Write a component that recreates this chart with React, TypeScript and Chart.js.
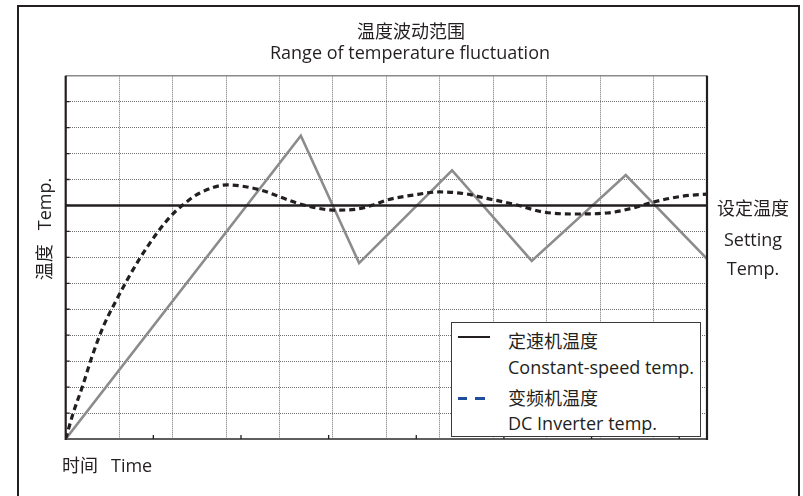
import React, { useEffect, useRef } from "react";
import { Chart, registerables } from "chart.js";

Chart.register(...registerables);

// ---- data ----
const timeMin = 0;
const timeMax = 12;
const tempMin = 0;
const tempMax = 14;
const settingTemp = 9;

// constant-speed unit (grey zigzag)
const constantTime = [0, 4.4, 5.49, 7.23, 8.72, 10.48, 12];
const constantTemp = [0, 11.69, 6.78, 10.35, 6.86, 10.17, 6.94];

// DC inverter unit (black dashed curve)
const inverterTime = [
  0, 0.14, 0.31, 0.49, 0.7, 0.92, 1.15, 1.39, 1.71, 1.95, 2.19, 2.51, 3.02, 3.64, 4.01, 4.33,
  4.7, 5.0, 5.45, 5.75, 6.01, 6.5, 7.0, 7.51, 7.75, 8.44, 8.93, 9.49, 10.13, 10.61, 10.99,
  11.55, 12,
];
const inverterTemp = [
  0, 1.0, 2.0, 3.16, 4.32, 5.24, 6.13, 6.97, 7.94, 8.55, 9.02, 9.48, 9.79, 9.6, 9.33, 9.09,
  8.9, 8.82, 8.86, 9.02, 9.21, 9.4, 9.52, 9.44, 9.33, 9.02, 8.75, 8.67, 8.71, 8.9, 9.13, 9.36,
  9.44,
];

// small tick marks along the time axis
const timeAxisMarks = [1.64, 3.28, 4.92, 6.56, 8.2, 9.84, 11.48];

// texts
const titleLines = ["温度波动范围", "Range of temperature fluctuation"];
const yTitle = ["温度", "Temp."];
const xTitle = ["时间", "Time"];
const settingLabel = ["设定温度", "Setting", "Temp."];
const legendItems = [
  { zh: "定速机温度", en: "Constant-speed temp." },
  { zh: "变频机温度", en: "DC Inverter temp." },
];

const INK = "#231f20";
const FONT = '"Open Sans", "Noto Sans CJK SC", sans-serif';

const framePlugin = {
  id: "frameLines",
  afterDatasetsDraw(chart: any) {
    const { ctx, chartArea, scales } = chart;
    const { left, right, top, bottom } = chartArea;
    ctx.save();
    // top border
    ctx.strokeStyle = "#8a8a8a";
    ctx.lineWidth = 1.5;
    ctx.beginPath();
    ctx.moveTo(left, top);
    ctx.lineTo(right, top);
    ctx.stroke();
    // bottom axis
    ctx.strokeStyle = "#5e5e5e";
    ctx.lineWidth = 2.2;
    ctx.beginPath();
    ctx.moveTo(left, bottom);
    ctx.lineTo(right, bottom);
    ctx.stroke();
    // left axis and right border
    ctx.strokeStyle = INK;
    ctx.lineWidth = 2.2;
    ctx.beginPath();
    ctx.moveTo(left, top);
    ctx.lineTo(left, bottom + 1);
    ctx.moveTo(right, top);
    ctx.lineTo(right, bottom + 1);
    ctx.stroke();
    // left axis tick marks
    ctx.lineWidth = 1.3;
    ctx.beginPath();
    for (let v = tempMin + 1; v < tempMax; v++) {
      const y = scales.y.getPixelForValue(v);
      ctx.moveTo(left, y);
      ctx.lineTo(left + 4, y);
    }
    // bottom axis marks
    for (const t of timeAxisMarks) {
      const x = scales.x.getPixelForValue(t);
      ctx.moveTo(x, bottom);
      ctx.lineTo(x, bottom - 4);
    }
    ctx.stroke();
    ctx.restore();
  },
};

export default function App() {
  const canvasRef = useRef<HTMLCanvasElement | null>(null);

  useEffect(() => {
    const canvas = canvasRef.current;
    if (!canvas) return;
    const chart = new Chart(canvas, {
      type: "line",
      data: {
        datasets: [
          {
            label: "变频机温度 DC Inverter temp.",
            data: inverterTime.map((x, i) => ({ x, y: inverterTemp[i] })),
            borderColor: INK,
            borderWidth: 3.2,
            borderDash: [6, 4],
            pointRadius: 0,
            cubicInterpolationMode: "monotone",
            fill: false,
            order: 1,
          },
          {
            label: "设定温度 Setting Temp.",
            data: [
              { x: timeMin, y: settingTemp },
              { x: timeMax, y: settingTemp },
            ],
            borderColor: INK,
            borderWidth: 2.4,
            pointRadius: 0,
            tension: 0,
            fill: false,
            order: 2,
          },
          {
            label: "定速机温度 Constant-speed temp.",
            data: constantTime.map((x, i) => ({ x, y: constantTemp[i] })),
            borderColor: "#8c8c8c",
            borderWidth: 2.6,
            pointRadius: 0,
            tension: 0,
            fill: false,
            order: 3,
          },
        ],
      },
      options: {
        animation: false,
        responsive: true,
        maintainAspectRatio: false,
        layout: { padding: { left: 65.7, top: 75.7, right: 96, bottom: 57 } },
        plugins: {
          legend: { display: false },
          tooltip: { enabled: false },
          title: { display: false },
        },
        scales: {
          x: {
            type: "linear",
            min: timeMin,
            max: timeMax,
            ticks: { display: false, stepSize: 1 },
            grid: { color: "#707070", lineWidth: 1, drawTicks: false },
            border: { display: false, dash: [1, 1] },
            afterFit: (s: any) => {
              s.height = 0;
            },
          },
          y: {
            type: "linear",
            min: tempMin,
            max: tempMax,
            ticks: { display: false, stepSize: 1 },
            grid: { color: "#707070", lineWidth: 1, drawTicks: false },
            border: { display: false, dash: [1, 1] },
            afterFit: (s: any) => {
              s.width = 0;
            },
          },
        },
      },
      plugins: [framePlugin],
    } as any);
    return () => chart.destroy();
  }, []);

  const text: React.CSSProperties = {
    position: "absolute",
    fontFamily: FONT,
    fontSize: 18,
    color: INK,
    whiteSpace: "nowrap",
    lineHeight: "24px",
    height: 24,
  };

  return (
    <div
      style={{
        position: "absolute",
        left: 0,
        top: 0,
        width: 803,
        height: 496,
        background: "#fff",
        overflow: "hidden",
      }}
    >
      {/* outer frame */}
      <div
        style={{
          position: "absolute",
          left: 17,
          top: 4.5,
          width: 800 - 17,
          height: 520,
          border: `2.3px solid ${INK}`,
          boxSizing: "border-box",
        }}
      />
      <div style={{ position: "absolute", left: 0, top: 0, width: 803, height: 496 }}>
        <canvas ref={canvasRef} />
      </div>

      {/* title */}
      <div style={{ ...text, left: 0, width: 822, textAlign: "center", top: 31 - 12 }}>
        {titleLines[0]}
      </div>
      <div style={{ ...text, left: 0, width: 820, textAlign: "center", top: 52 - 12 }}>
        {titleLines[1]}
      </div>

      {/* y axis title */}
      <div
        style={{
          ...text,
          left: 44 - 70,
          top: 229 - 12,
          width: 140,
          textAlign: "center",
          transform: "rotate(-90deg)",
        }}
      >
        {yTitle[0]}
        <span style={{ marginLeft: 14 }}>{yTitle[1]}</span>
      </div>

      {/* x axis title */}
      <div style={{ ...text, left: 62, top: 465 - 12 }}>
        {xTitle[0]}
        <span style={{ marginLeft: 13 }}>{xTitle[1]}</span>
      </div>

      {/* setting temperature label */}
      <div style={{ ...text, left: 753 - 50, width: 100, textAlign: "center", top: 208 - 12 }}>
        {settingLabel[0]}
      </div>
      <div style={{ ...text, left: 753 - 50, width: 100, textAlign: "center", top: 239 - 12 }}>
        {settingLabel[1]}
      </div>
      <div style={{ ...text, left: 753 - 50, width: 100, textAlign: "center", top: 268 - 12 }}>
        {settingLabel[2]}
      </div>

      {/* legend */}
      <div
        style={{
          position: "absolute",
          left: 451,
          top: 322,
          width: 250,
          height: 115,
          border: "1.5px solid #3a3a3a",
          background: "#fff",
          boxSizing: "border-box",
        }}
      />
      <div
        style={{
          position: "absolute",
          left: 458,
          top: 335.5,
          width: 32,
          height: 2.5,
          background: INK,
        }}
      />
      <div
        style={{
          position: "absolute",
          left: 458,
          top: 397,
          width: 9,
          height: 2.5,
          background: "#1f4e9c",
        }}
      />
      <div
        style={{
          position: "absolute",
          left: 475,
          top: 397,
          width: 10,
          height: 2.5,
          background: "#1f4e9c",
        }}
      />
      <div style={{ ...text, left: 508, top: 341 - 12 }}>{legendItems[0].zh}</div>
      <div style={{ ...text, left: 508, top: 367 - 12 }}>{legendItems[0].en}</div>
      <div style={{ ...text, left: 508, top: 398 - 12 }}>{legendItems[1].zh}</div>
      <div style={{ ...text, left: 508, top: 423 - 12 }}>{legendItems[1].en}</div>
    </div>
  );
}
